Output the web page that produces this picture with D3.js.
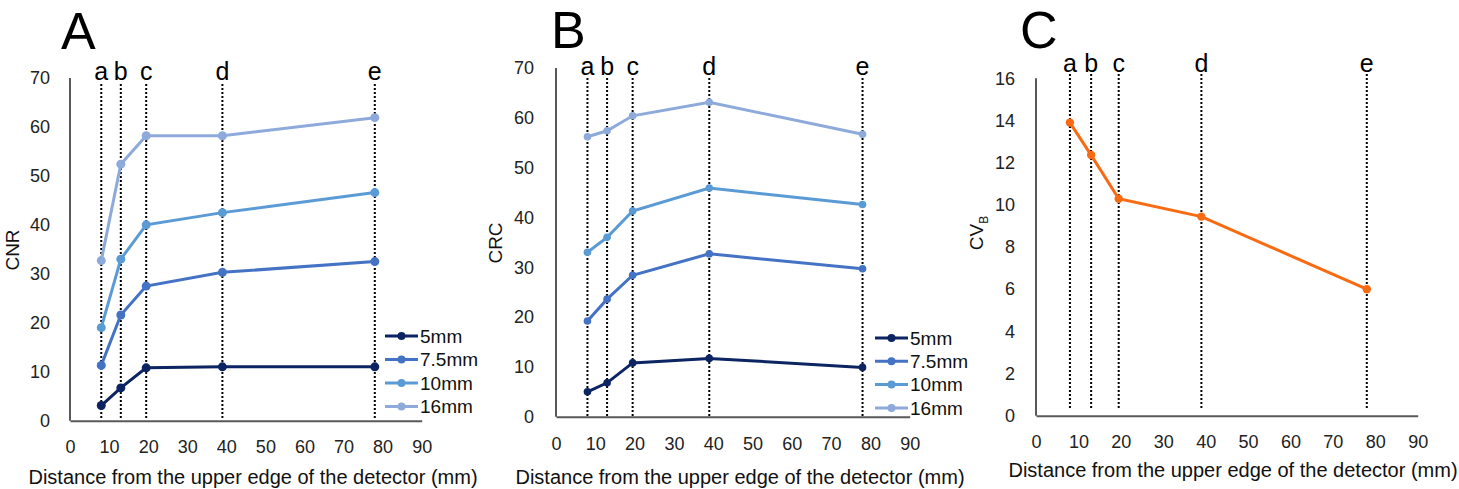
<!DOCTYPE html>
<html>
<head>
<meta charset="utf-8">
<script src="https://cdn.jsdelivr.net/npm/d3@7"></script>
<style>
  body { margin: 0; background: #fff; }
  svg { font-family: "Liberation Sans", Arial, sans-serif; }
</style>
</head>
<body>
<svg width="1459" height="489"></svg>
<script>
// distances (mm) of the marked positions a-e
const distances = [8, 13, 19.5, 39, 78];
const posLabels = ["a", "b", "c", "d", "e"];
const sizes = ["5mm", "7.5mm", "10mm", "16mm"];
const sizeColors = ["#0c2461", "#4472c4", "#5b9bd5", "#8eaadb"];

// CNR (panel A)
const cnr5 = [3.1, 6.7, 10.8, 11.0, 11.0];
const cnr75 = [11.3, 21.6, 27.5, 30.3, 32.5];
const cnr10 = [19.0, 33.0, 40.0, 42.5, 46.6];
const cnr16 = [32.7, 52.4, 58.2, 58.2, 61.9];

// CRC (panel B)
const crc5 = [5.0, 6.8, 10.8, 11.7, 9.9];
const crc75 = [19.2, 23.6, 28.4, 32.7, 29.7];
const crc10 = [33.0, 36.0, 41.3, 45.9, 42.6];
const crc16 = [56.2, 57.4, 60.4, 63.1, 56.7];

// CV_B (panel C)
const cvb = [13.9, 12.36, 10.29, 9.44, 6.0];

const xTickValues = [0, 10, 20, 30, 40, 50, 60, 70, 80, 90];
const xTitle = "Distance from the upper edge of the detector (mm)";

const svg = d3.select("svg");

function drawPanel(p) {
  const g = svg.append("g");
  const x = d3.scaleLinear().domain([0, 90]).range([p.x0, p.x1]);
  const y = d3.scaleLinear().domain([0, p.yMax]).range([p.y0, p.y1]);

  // panel letter
  g.append("text").attr("x", p.letterX).attr("y", p.letterY)
    .attr("font-size", 52).attr("fill", "#000").text(p.letter);

  // dotted position markers
  distances.forEach((d, i) => {
    g.append("line")
      .attr("x1", x(d)).attr("x2", x(d))
      .attr("y1", p.dotTop).attr("y2", p.dotBottom)
      .attr("stroke", "#000").attr("stroke-width", 2)
      .attr("stroke-dasharray", "2,2");
    g.append("text").attr("x", x(d)).attr("y", p.posY)
      .attr("text-anchor", "middle").attr("font-size", 25)
      .attr("fill", "#000").text(posLabels[i]);
  });

  // axes
  const yAxis = d3.axisLeft(y).tickValues(d3.range(0, p.yMax + 1, p.yStep))
    .tickSize(0).tickPadding(p.yPad);
  const ya = g.append("g").attr("transform", `translate(${p.x0},0)`).call(yAxis);
  const xAxis = d3.axisBottom(x).tickValues(xTickValues).tickSize(0).tickPadding(p.xPad);
  const xa = g.append("g").attr("transform", `translate(0,${p.y0})`).call(xAxis);
  [ya, xa].forEach(a => {
    a.select(".domain").attr("stroke", "#595959").attr("stroke-width", 2);
    a.selectAll("text").attr("font-size", 18).attr("fill", "#222")
      .attr("font-family", "Liberation Sans, Arial, sans-serif");
  });
  ya.select(".domain").attr("d", `M0,${p.y0}V${p.y1}`);

  // axis titles
  g.append("text").attr("x", p.titleX).attr("y", p.titleY)
    .attr("text-anchor", "middle").attr("font-size", 20).attr("fill", "#111")
    .text(xTitle);
  const yt = g.append("text")
    .attr("transform", `translate(${p.yTitleX},${p.yTitleY}) rotate(-90)`)
    .attr("text-anchor", "middle").attr("font-size", 19).attr("fill", "#111");
  yt.append("tspan").text(p.yTitle);
  if (p.ySub) yt.append("tspan").attr("font-size", 12).attr("dy", 5).text(p.ySub);

  const line = d3.line().x((d, i) => x(distances[i])).y(d => y(d));

  p.series.forEach((s, k) => {
    g.append("path").datum(s.values)
      .attr("d", line).attr("fill", "none")
      .attr("stroke", s.color).attr("stroke-width", 3);
    g.selectAll(null).data(s.values).enter().append("circle")
      .attr("cx", (d, i) => x(distances[i])).attr("cy", d => y(d))
      .attr("r", p.r).attr("fill", s.color);
  });

  // legend
  if (p.legend) {
    const lg = g.append("g");
    p.series.forEach((s, k) => {
      const ly = p.legend.y + k * p.legend.dy;
      lg.append("line").attr("x1", p.legend.x).attr("x2", p.legend.x + 33)
        .attr("y1", ly).attr("y2", ly).attr("stroke", s.color).attr("stroke-width", 3);
      lg.append("circle").attr("cx", p.legend.x + 16.5).attr("cy", ly)
        .attr("r", 4).attr("fill", s.color);
      lg.append("text").attr("x", p.legend.x + 35).attr("y", ly)
        .attr("dy", "0.35em").attr("font-size", 19).attr("fill", "#111")
        .text(s.name);
    });
  }
}

drawPanel({
  letter: "A", letterX: 61, letterY: 49,
  x0: 70, x1: 421.7, y0: 420.7, y1: 78, yMax: 70, yStep: 10,
  yPad: 20, xPad: 20, posY: 80, dotTop: 84, dotBottom: 420,
  titleX: 253, titleY: 484, yTitle: "CNR", yTitleX: 19, yTitleY: 250,
  r: 4.5,
  series: [cnr5, cnr75, cnr10, cnr16].map((v, i) => ({ name: sizes[i], color: sizeColors[i], values: v })),
  legend: { x: 385, y: 336, dy: 23.5 }
});

drawPanel({
  letter: "B", letterX: 551, letterY: 48,
  x0: 556, x1: 909.7, y0: 416.7, y1: 68, yMax: 70, yStep: 10,
  yPad: 22, xPad: 21, posY: 75, dotTop: 78, dotBottom: 416,
  titleX: 740, titleY: 484, yTitle: "CRC", yTitleX: 502, yTitleY: 243,
  r: 3.8,
  series: [crc5, crc75, crc10, crc16].map((v, i) => ({ name: sizes[i], color: sizeColors[i], values: v })),
  legend: { x: 875, y: 338, dy: 23.3 }
});

drawPanel({
  letter: "C", letterX: 1020, letterY: 48,
  x0: 1036, x1: 1417.7, y0: 415.7, y1: 78.3, yMax: 16, yStep: 2,
  yPad: 21, xPad: 20, posY: 72, dotTop: 74, dotBottom: 410,
  titleX: 1233, titleY: 477, yTitle: "CV", ySub: "B", yTitleX: 983, yTitleY: 233,
  r: 4.2,
  series: [{ name: "CVB", color: "#f96b12", values: cvb }],
  legend: null
});
</script>
</body>
</html>
